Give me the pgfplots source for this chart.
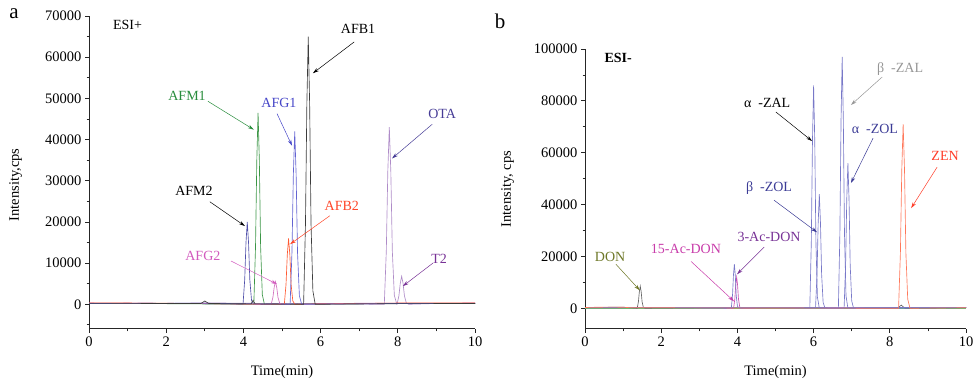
\documentclass[border=0pt]{standalone}
\usepackage{fontspec}
\setmainfont{Liberation Serif}
\usepackage{pgfplots}
\pgfplotsset{compat=1.18}
\usetikzlibrary{arrows.meta}
\definecolor{cAFMtwo}{RGB}{80,80,170}
\definecolor{cAFMone}{RGB}{60,150,70}
\definecolor{cAFGtwo}{RGB}{210,110,190}
\definecolor{cAFBtwo}{RGB}{255,90,50}
\definecolor{cAFGone}{RGB}{100,100,210}
\definecolor{cAFBone}{RGB}{60,60,60}
\definecolor{cOTA}{RGB}{175,140,200}
\definecolor{lAFMone}{RGB}{40,140,60}
\definecolor{lAFGone}{RGB}{70,70,200}
\definecolor{lOTA}{RGB}{70,60,150}
\definecolor{lAFBtwo}{RGB}{255,70,40}
\definecolor{lAFGtwo}{RGB}{210,90,190}
\definecolor{lTtwo}{RGB}{120,50,150}
\definecolor{cZ}{RGB}{120,120,200}
\definecolor{cDON}{RGB}{100,100,100}
\definecolor{cAcD}{RGB}{200,80,180}
\definecolor{cZEN}{RGB}{255,120,90}
\definecolor{lbZAL}{RGB}{150,150,150}
\definecolor{lZOL}{RGB}{60,60,150}
\definecolor{lZEN}{RGB}{255,60,40}
\definecolor{lthree}{RGB}{120,50,150}
\definecolor{lfift}{RGB}{200,60,170}
\definecolor{lDON}{RGB}{110,120,40}
\begin{document}
\begin{tikzpicture}
\useasboundingbox (0pt,0pt) rectangle (973pt,385pt);
\pgfplotsset{
  myax/.style={
    scale only axis,
    axis lines*=left,
    axis line style={line width=1pt,black!85},
    tick align=outside,
    tick style={line width=0.8pt,black!85},
    major tick length=4pt, minor tick length=2.5pt,
    scaled ticks=false,
    xticklabel={\pgfmathprintnumber[fixed,precision=0,assume math mode=true,1000 sep={}]{\tick}},
    yticklabel={\pgfmathprintnumber[fixed,precision=0,assume math mode=true,1000 sep={}]{\tick}},
    tick label style={font=\fontsize{14.5}{16}\selectfont},
    xmin=0,xmax=10,
    xtick={0,2,...,10}, minor xtick={1,3,...,9},
    xlabel={Time(min)},
    every axis x label/.style={at={(axis description cs:0.5,0)},yshift=-43pt,anchor=center,font=\fontsize{14.5}{16}\selectfont},
    every axis plot/.append style={line width=0.65pt},
  }
}
% ---------------- panel a ----------------
\begin{axis}[myax, at={(89pt,56pt)}, anchor=south west, width=386pt, height=313pt,
  ymin=-6000, ymax=70000,
  ytick={0,10000,...,70000}, minor ytick={-5000,5000,...,65000},
  ylabel={Intensity,cps},
  every axis y label/.style={at={(axis description cs:-0.19,0.46)},rotate=90,anchor=center,font=\fontsize{14.5}{16}\selectfont},
]
\addplot[cOTA] coordinates {(0,250)(1,300)(2,200)(3,350)(4,250)(7.65,0)(7.702,12900)(7.741,32250)(7.78,43000)(7.819,32250)(7.858,12900)(7.91,2150)(7.975,0)(7.98,0)(8.028,2040)(8.064,5100)(8.10,6800)(8.136,5100)(8.172,2040)(8.22,340)(8.28,0)(9,200)(10,250)};
\addplot[cAFMtwo] coordinates {(0,150)(1.5,250)(3,150)(3.99,0)(4.034,6000)(4.067,15000)(4.10,20000)(4.133,15000)(4.166,6000)(4.21,1000)(4.265,0)(6,200)(8,150)(10,200)};
\addplot[cAFMone] coordinates {(0,200)(2,150)(4.27,0)(4.314,13950)(4.347,34875)(4.38,46500)(4.413,34875)(4.446,13950)(4.49,2325)(4.545,0)(7,150)(10,200)};
\addplot[cAFGtwo] coordinates {(0,300)(2.5,200)(4.72,0)(4.764,1650)(4.797,4125)(4.83,5500)(4.863,4125)(4.896,1650)(4.94,275)(4.995,0)(7,250)(10,300)};
\addplot[cAFBtwo] coordinates {(0,350)(2,250)(5.06,0)(5.104,4800)(5.137,12000)(5.17,16000)(5.203,12000)(5.236,4800)(5.28,800)(5.335,0)(8,300)(10,350)};
\addplot[cAFGone] coordinates {(0,200)(3,250)(5.21,0)(5.258,12600)(5.294,31500)(5.33,42000)(5.366,31500)(5.402,12600)(5.45,2100)(5.51,0)(8,200)(10,150)};
\addplot[cAFBone] coordinates {(0,150)(2.9,200)(3.0,800)(3.1,200)(4.2,100)(4.25,1000)(4.3,100)(5.56,0)(5.608,19500)(5.644,48750)(5.68,65000)(5.716,48750)(5.752,19500)(5.80,3250)(5.86,0)(8,150)(10,200)};
\node[font=\fontsize{14}{16}\selectfont] at (axis cs:1.0,67800) {ESI+};
\node[font=\fontsize{14}{16}\selectfont] at (axis cs:6.97,66800) {AFB1};
\draw[black,line width=0.5pt,-{Stealth[length=6pt,width=3.5pt]}] (axis cs:6.87,63700) -- (axis cs:5.80,56100);
\node[font=\fontsize{14}{16}\selectfont,text=lAFMone] at (axis cs:2.54,50700) {AFM1};
\draw[lAFMone,line width=0.5pt,-{Stealth[length=6pt,width=3.5pt]}] (axis cs:3.08,49300) -- (axis cs:4.27,42400);
\node[font=\fontsize{14}{16}\selectfont,text=lAFGone] at (axis cs:4.92,48800) {AFG1};
\draw[lAFGone,line width=0.5pt,-{Stealth[length=6pt,width=3.5pt]}] (axis cs:4.87,46300) -- (axis cs:5.26,38500);
\node[font=\fontsize{14}{16}\selectfont,text=lOTA] at (axis cs:9.15,46100) {OTA};
\draw[lOTA,line width=0.5pt,-{Stealth[length=6pt,width=3.5pt]}] (axis cs:8.89,43700) -- (axis cs:7.85,35400);
\node[font=\fontsize{14}{16}\selectfont] at (axis cs:2.72,27600) {AFM2};
\draw[black,line width=0.5pt,-{Stealth[length=6pt,width=3.5pt]}] (axis cs:3.13,24900) -- (axis cs:4.04,19000);
\node[font=\fontsize{14}{16}\selectfont,text=lAFBtwo] at (axis cs:6.55,23900) {AFB2};
\draw[lAFBtwo,line width=0.5pt,-{Stealth[length=6pt,width=3.5pt]}] (axis cs:6.24,21500) -- (axis cs:5.21,14600);
\node[font=\fontsize{14}{16}\selectfont,text=lAFGtwo] at (axis cs:2.95,11700) {AFG2};
\draw[lAFGtwo,line width=0.5pt,-{Stealth[length=6pt,width=3.5pt]}] (axis cs:3.68,10500) -- (axis cs:4.87,4900);
\node[font=\fontsize{14}{16}\selectfont,text=lTtwo] at (axis cs:9.07,11000) {T2};
\draw[lTtwo,line width=0.5pt,-{Stealth[length=6pt,width=3.5pt]}] (axis cs:8.91,10000) -- (axis cs:8.13,4400);
\end{axis}
% ---------------- panel b ----------------
\begin{axis}[myax, at={(585pt,56pt)}, anchor=south west, width=381pt, height=280pt,
  ymin=-8000, ymax=100000,
  ytick={0,20000,...,100000}, minor ytick={10000,30000,...,90000},
  ylabel={Intensity, cps},
  every axis y label/.style={at={(axis description cs:-0.203,0.5)},rotate=90,anchor=center,font=\fontsize{14.5}{16}\selectfont},
]
\addplot[green!60!black!60] coordinates {(0,0)(10,0)};
\addplot[cDON] coordinates {(0,300)(1,400)(1.37,0)(1.402,2550)(1.426,6375)(1.45,8500)(1.474,6375)(1.498,2550)(1.53,425)(1.57,0)(3,250)(6,200)(8.2,0)(8.3,1200)(8.4,0)(10,250)};
\addplot[cAcD] coordinates {(0,200)(2,250)(3.90,0)(3.932,3600)(3.956,9000)(3.98,12000)(4.004,9000)(4.028,3600)(4.06,600)(4.10,0)(7,250)(10,200)};
\addplot[cZ] coordinates {(0,350)(2,300)(3.84,0)(3.872,5100)(3.896,12750)(3.92,17000)(3.944,12750)(3.968,5100)(4.0,850)(4.04,0)(5,300)(5.90,0)(5.94,25800)(5.97,64500)(6.0,86000)(6.03,64500)(6.06,25800)(6.10,4300)(6.15,0)(7.5,300)(10,250)};
\addplot[cZ] coordinates {(0,250)(5,250)(6.05,0)(6.09,13200)(6.12,33000)(6.15,44000)(6.18,33000)(6.21,13200)(6.25,2200)(6.30,0)(10,300)};
\addplot[cZ] coordinates {(0,300)(6,250)(6.65,0)(6.69,29100)(6.72,72750)(6.75,97000)(6.78,72750)(6.81,29100)(6.85,4850)(6.90,0)(10,250)};
\addplot[cZ] coordinates {(0,200)(6,250)(6.80,0)(6.84,16800)(6.87,42000)(6.90,56000)(6.93,42000)(6.96,16800)(7.00,2800)(7.05,0)(10,300)};
\addplot[cZEN] coordinates {(0,300)(0.6,450)(1,400)(1.2,200)(8.23,0)(8.278,21300)(8.314,53250)(8.35,71000)(8.386,53250)(8.422,21300)(8.47,3550)(8.53,0)(10,200)};
\node[font=\fontsize{14}{16}\selectfont\bfseries] at (axis cs:0.87,96500) {ESI-};
\node[font=\fontsize{14}{16}\selectfont,text=lbZAL] at (axis cs:8.27,92300) {β\ \ -ZAL};
\draw[lbZAL,line width=0.5pt,-{Stealth[length=6pt,width=3.5pt]}] (axis cs:7.80,89200) -- (axis cs:6.98,78400);
\node[font=\fontsize{14}{16}\selectfont] at (axis cs:4.78,79200) {α\ \ -ZAL};
\draw[black,line width=0.5pt,-{Stealth[length=6pt,width=3.5pt]}] (axis cs:5.01,75700) -- (axis cs:5.96,64500);
\node[font=\fontsize{14}{16}\selectfont,text=lZOL] at (axis cs:7.61,69100) {α\ \ -ZOL};
\draw[lZOL,line width=0.5pt,-{Stealth[length=6pt,width=3.5pt]}] (axis cs:7.56,65600) -- (axis cs:6.98,48300);
\node[font=\fontsize{14}{16}\selectfont,text=lZEN] at (axis cs:9.45,58700) {ZEN};
\draw[lZEN,line width=0.5pt,-{Stealth[length=6pt,width=3.5pt]}] (axis cs:9.24,54400) -- (axis cs:8.56,38600);
\node[font=\fontsize{14}{16}\selectfont,text=lZOL] at (axis cs:4.83,46300) {β\ \ -ZOL};
\draw[lZOL,line width=0.5pt,-{Stealth[length=6pt,width=3.5pt]}] (axis cs:4.96,41700) -- (axis cs:6.09,29300);
\node[font=\fontsize{14}{16}\selectfont,text=lthree] at (axis cs:4.83,27400) {3-Ac-DON};
\draw[lthree,line width=0.5pt,-{Stealth[length=6pt,width=3.5pt]}] (axis cs:4.70,23600) -- (axis cs:3.99,13100);
\node[font=\fontsize{14}{16}\selectfont,text=lfift] at (axis cs:2.65,22800) {15-Ac-DON};
\draw[lfift,line width=0.5pt,-{Stealth[length=6pt,width=3.5pt]}] (axis cs:2.78,18100) -- (axis cs:3.91,2700);
\node[font=\fontsize{14}{16}\selectfont,text=lDON] at (axis cs:0.66,19700) {DON};
\draw[lDON,line width=0.5pt,-{Stealth[length=6pt,width=3.5pt]}] (axis cs:0.81,17000) -- (axis cs:1.44,6900);
\end{axis}
\node[font=\fontsize{21}{24}\selectfont] at (14pt,371pt) {a};
\node[font=\fontsize{21}{24}\selectfont] at (500pt,364pt) {b};
\end{tikzpicture}
\end{document}
